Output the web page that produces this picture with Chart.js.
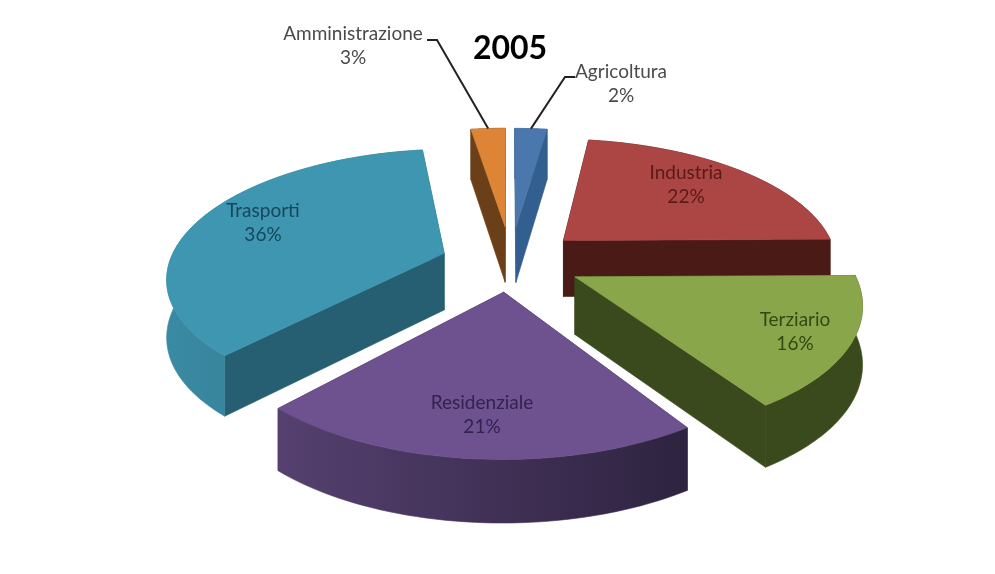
<!DOCTYPE html>
<html>
<head>
<meta charset="utf-8">
<style>
  html, body { margin: 0; padding: 0; background: #fff; }
  canvas { display: block; filter: blur(0.4px); }
</style>
<script src="https://cdn.jsdelivr.net/npm/chart.js@4"></script>
</head>
<body>
<canvas id="grafico" width="995" height="574"></canvas>
<script>
const titolo = '2005';
const settori = ['Agricoltura', 'Industria', 'Terziario', 'Residenziale', 'Trasporti', 'Amministrazione'];
const percentuali = [2, 22, 16, 21, 36, 3];

// colours of each slice: top face, radial wall, outer wall left and right
const coloriSopra = ['#4a78ad', '#ab4644', '#8aa64b', '#6e5290', '#3e96b0', '#de8436'];
const coloriParete = ['#335f90', '#4a1a17', '#3a4a1c', '#2e2240', '#265f72', '#6b4018'];
const coloriBordoSx = ['#335f90', '#4a1a17', '#3a4a1c', '#55406f', '#3a8aa3', '#6b4018'];
const coloriBordoDx = ['#335f90', '#4a1a17', '#3a4a1c', '#2e2340', '#2f7389', '#6b4018'];
const coloriTesto = ['#4a4a4a', '#5a1a18', '#2f4a12', '#33224f', '#15485c', '#4a4a4a'];

// explosion of each slice and where its label sits
const esplosione = [72, 72, 72, 72, 72, 72];
const spostaX = [-2, 0, 0, 0, 2, -2];
const spostaY = [0, 3, 3, 0, 5, 0];
const correzioneInizio = [-3, -2, 0, 0, 0, -1];
const correzioneFine = [-2, 0, 0, 0, 0, -3];
const posEtichette = [[621, 72], [686, 173], [795, 320], [482, 403], [263, 211], [353, 34]];

const SCHIACCIA = 0.455;
const PROSPETTIVA = 1600;
const SPESSORE = 57;
const GRADO = Math.PI / 180;

// plane point -> screen point, z is how far below the top face
function proietta(chart, i, u, v, z) {
    const el = chart.getDatasetMeta(0).data[i];
    const f = 1 / (1 - v / PROSPETTIVA);
    return {
        x: el.x + spostaX[i] + u * f,
        y: el.y + spostaY[i] + v * SCHIACCIA * f + z * SPESSORE * (1 + v / 3000)
    };
}

function puntoArco(el, angolo, r) {
    const m = (el.startAngle + el.endAngle) / 2;
    const off = el.options.offset;
    return {
        u: Math.cos(m) * off + Math.cos(angolo) * r,
        v: Math.sin(m) * off + Math.sin(angolo) * r
    };
}

function poligono(ctx, punti, colore) {
    ctx.beginPath();
    punti.forEach((p, k) => k ? ctx.lineTo(p.x, p.y) : ctx.moveTo(p.x, p.y));
    ctx.closePath();
    ctx.fillStyle = colore;
    ctx.fill();
    // thin stroke so no light seam shows between faces
    ctx.strokeStyle = colore;
    ctx.lineWidth = 0.6;
    ctx.stroke();
}

function disegnaFetta(chart, el, i) {
    const ctx = chart.ctx;
    const inizio = el.startAngle + correzioneInizio[i] * GRADO;
    const fine = el.endAngle + correzioneFine[i] * GRADO;
    const arco = (z) => {
        const punti = [];
        for (let k = 0; k <= 48; k++) {
            const p = puntoArco(el, inizio + (fine - inizio) * k / 48, el.outerRadius);
            punti.push(proietta(chart, i, p.u, p.v, z));
        }
        return punti;
    };
    const c = puntoArco(el, 0, 0);
    const apice = proietta(chart, i, c.u, c.v, 0);
    const apiceBasso = proietta(chart, i, c.u, c.v, 1);
    const alto = arco(0);
    const basso = arco(1);
    const n = alto.length - 1;

    poligono(ctx, [apice, alto[0], basso[0], apiceBasso], coloriParete[i]);
    poligono(ctx, [apice, alto[n], basso[n], apiceBasso], coloriParete[i]);

    const xs = alto.map((p) => p.x);
    const grad = ctx.createLinearGradient(Math.min(...xs), 0, Math.max(...xs), 0);
    grad.addColorStop(0, coloriBordoSx[i]);
    grad.addColorStop(1, coloriBordoDx[i]);
    poligono(ctx, alto.concat(basso.slice().reverse()), grad);

    poligono(ctx, [apice].concat(alto), coloriSopra[i]);
}

const pie3d = {
    id: 'pie3d',
    beforeDatasetsDraw(chart) {
        const arcs = chart.getDatasetMeta(0).data;
        const ordine = arcs.map((el, i) => i).sort((a, b) => {
            const ma = (arcs[a].startAngle + arcs[a].endAngle) / 2;
            const mb = (arcs[b].startAngle + arcs[b].endAngle) / 2;
            return Math.sin(ma) - Math.sin(mb);
        });
        ordine.forEach((i) => disegnaFetta(chart, arcs[i], i));
        return false;
    },
    afterDraw(chart) {
        const ctx = chart.ctx;
        const arcs = chart.getDatasetMeta(0).data;
        ctx.save();

        // leader lines of the two thin slices
        ctx.strokeStyle = '#222';
        ctx.lineWidth = 2;
        [[0, 575, 565], [5, 427, 437]].forEach(([i, x0, x1]) => {
            const el = arcs[i];
            const m = (el.startAngle + correzioneInizio[i] * GRADO + el.endAngle + correzioneFine[i] * GRADO) / 2;
            const p = puntoArco(el, m, el.outerRadius);
            const fine = proietta(chart, i, p.u, p.v, 0);
            const y = posEtichette[i][1] + (i === 0 ? 5 : 6);
            ctx.beginPath();
            ctx.moveTo(x0, y);
            ctx.lineTo(x1, y);
            ctx.lineTo(fine.x, fine.y);
            ctx.stroke();
        });

        ctx.textAlign = 'center';
        ctx.textBaseline = 'middle';
        settori.forEach((nome, i) => {
            const [x, y] = posEtichette[i];
            ctx.fillStyle = coloriTesto[i];
            ctx.font = '19px Lato';
            ctx.fillText(nome, x, y);
            ctx.fillText(percentuali[i] + '%', x, y + 24);
        });

        ctx.fillStyle = '#000';
        ctx.font = 'bold 32px Lato';
        ctx.fillText(titolo, 510, 49);
        ctx.restore();
    }
};

new Chart(document.getElementById('grafico').getContext('2d'), {
    type: 'pie',
    data: {
        labels: settori,
        datasets: [{
            data: percentuali,
            backgroundColor: coloriSopra,
            offset: esplosione,
            borderWidth: 0
        }]
    },
    options: {
        responsive: false,
        animation: false,
        rotation: 3,
        radius: 275,
        layout: { padding: { left: 25, bottom: 58 } },
        plugins: {
            legend: { display: false },
            tooltip: { enabled: false }
        }
    },
    plugins: [pie3d]
});
</script>
</body>
</html>
